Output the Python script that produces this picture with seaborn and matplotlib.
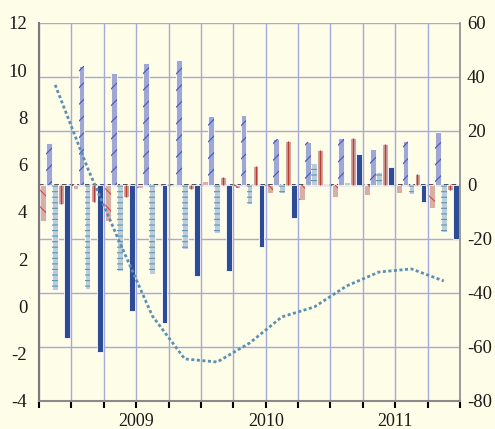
import numpy as np
import pandas as pd
import matplotlib
matplotlib.use("Agg")
import matplotlib.pyplot as plt
import seaborn as sns

# quarters on the x axis (2008 Q4 .. 2011 Q4)
quarters = ["2008Q4", "2009Q1", "2009Q2", "2009Q3", "2009Q4",
            "2010Q1", "2010Q2", "2010Q3", "2010Q4",
            "2011Q1", "2011Q2", "2011Q3", "2011Q4"]
years = ["2009", "2010", "2011"]

# bar series, right axis
series_a = [-13.3, -1.5, -13.2, -1.1, 0.0, 1.3, -1.0, -2.8, -5.6, -4.3, -3.7, -2.8, -8.5]
series_b = [15.5, 44.2, 41.6, 45.1, 46.3, 25.6, 25.9, 16.9, 15.8, 17.3, 13.3, 16.3, 19.5]
series_c = [-38.9, -38.5, -31.7, -33.1, -23.7, -17.9, -7.0, -2.8, 7.7, 1.2, 4.9, -3.4, -17.5]
series_d = [-7.0, -6.2, -4.5, 0.0, -1.5, 2.8, 7.2, 16.4, 13.0, 17.5, 15.2, 4.1, -1.9]
series_e = [-56.5, -61.7, -46.5, -51.2, -33.7, -31.7, -22.8, -12.3, 0.3, 11.5, 6.8, -6.2, -20.0]

# dotted line, left axis
line_values = [9.38, 5.86, 2.69, -0.40, -2.22, -2.35, -1.55, -0.44, -0.02, 0.87, 1.46, 1.59, 1.08]

series_names = ["a", "b", "c", "d", "e"]
face_colors = ["#e2aa9b", "#97a1dc", "#b6cedc", "#d9a192", "#1c45a6"]
hatch_colors = ["#d04848", "#4457bc", "#5e96b4", "#d9a192", "#1c45a6"]
hatches = ["\\\\", "//", "---", "", ""]

BG = "#fefde8"
GRID = "#a3abdd"
LINE = "#5b90b4"

sns.set_theme(style="white")
plt.rcParams["font.family"] = ["Liberation Serif", "DejaVu Serif"]
plt.rcParams["hatch.linewidth"] = 0.8
plt.rcParams["axes.unicode_minus"] = False

fig, ax = plt.subplots(figsize=(4.95, 4.29), dpi=100)
fig.patch.set_facecolor(BG)
fig.subplots_adjust(left=0.0788, right=0.9293, bottom=0.0653, top=0.9464)
ax2 = ax.twinx()

bars = pd.DataFrame({"quarter": quarters, "a": series_a, "b": series_b,
                     "c": series_c, "d": series_d, "e": series_e})
bars = bars.melt(id_vars="quarter", var_name="series", value_name="value")

# filled bars with white outline
sns.barplot(data=bars, x="quarter", y="value", hue="series", hue_order=series_names,
            palette=face_colors, width=0.93, gap=0.04, edgecolor="white", linewidth=0.6,
            errorbar=None, legend=False, ax=ax2, zorder=2)
# hatch overlay
sns.barplot(data=bars, x="quarter", y="value", hue="series", hue_order=series_names,
            palette=hatch_colors, width=0.93, gap=0.04, fill=False, linewidth=0,
            errorbar=None, legend=False, ax=ax2, zorder=3)
for cont, h in zip(ax2.containers[5:], hatches):
    for p in cont:
        p.set_linewidth(0)
        p.set_hatch(h if h else None)
        if not h:
            p.set_edgecolor("none")

# salmon bars carry a dark red centre stripe
for p in ax2.containers[3]:
    xc = p.get_x() + p.get_width() / 2
    ax2.vlines(xc, p.get_y(), p.get_y() + p.get_height(), color="#b83a30", lw=1.0, zorder=4)

ax2.axhline(0, color="#222222", lw=1.1, ls=(0, (3, 2)), zorder=1)

sns.lineplot(x=np.arange(len(quarters)), y=line_values, ax=ax, color=LINE, lw=2.0,
             linestyle=(0, (1.1, 0.9)))

# axes limits and ticks
ax.set_ylim(-4, 12)
ax.set_yticks(range(-4, 13, 2))
ax2.set_ylim(-80, 60)
ax2.set_yticks(range(-80, 61, 20))
ax.set_xlim(-0.5, len(quarters) - 0.5)

bounds = np.arange(len(quarters) + 1) - 0.5
ax.set_xticks(bounds)
ax.set_xticklabels([""] * len(bounds))
year_pos = [np.mean([i for i, q in enumerate(quarters) if q.startswith(y)]) for y in years]
ax.xaxis.remove_overlapping_locs = False
ax.set_xticks(year_pos, minor=True)
ax.set_xticklabels(years, minor=True)
ax.set_xlabel("")
ax.set_ylabel("")
ax2.set_xlabel("")
ax2.set_ylabel("")

ax.tick_params(axis="x", which="major", direction="out", length=5, width=1.5, color="black", bottom=True)
ax.tick_params(axis="x", which="minor", length=0, pad=8.5, labelsize=13, labelcolor="#1a1a1a")
ax.tick_params(axis="y", length=0, pad=8.5, labelsize=13.5, labelcolor="#1a1a1a")
ax2.tick_params(axis="y", length=0, pad=5, labelsize=13.5, labelcolor="#1a1a1a")

# grid: vertical from left axes, horizontal from right axes
ax.xaxis.grid(True, which="major", color=GRID, lw=1)
ax.xaxis.grid(False, which="minor")
ax.yaxis.grid(False)
ax2.yaxis.grid(True, color=GRID, lw=1)
ax2.xaxis.grid(False)
ax2.set_axisbelow(True)

ax.set_zorder(ax2.get_zorder() + 1)
ax.patch.set_visible(False)
ax2.patch.set_visible(False)

for s in ["top", "right"]:
    ax.spines[s].set_visible(False)
ax.spines["left"].set_color("#7a7a7a")
ax.spines["left"].set_linewidth(1.5)
ax.spines["bottom"].set_color("#8a8a8a")
ax.spines["bottom"].set_linewidth(1.5)
for s in ["top", "left", "bottom"]:
    ax2.spines[s].set_visible(False)
ax2.spines["right"].set_color("#888888")
ax2.spines["right"].set_linewidth(1.2)

fig.savefig("out.png", dpi=100, facecolor=BG)
